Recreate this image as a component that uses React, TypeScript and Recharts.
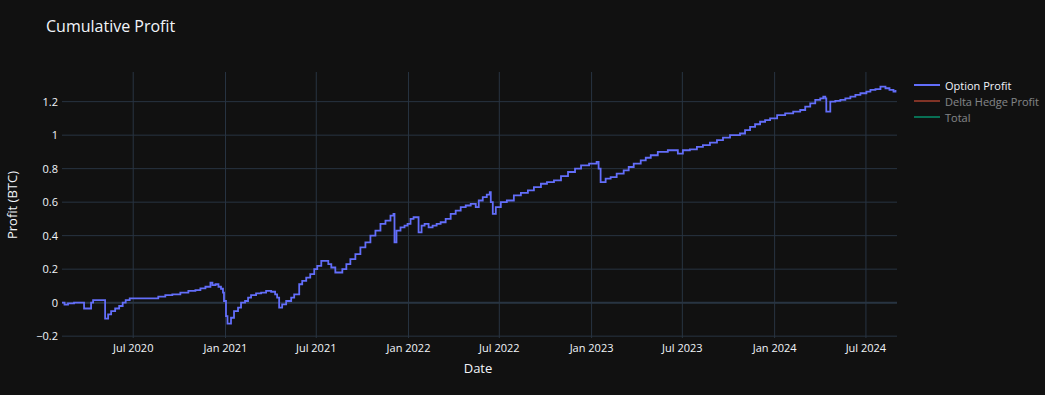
import { LineChart, Line, XAxis, YAxis, CartesianGrid, ReferenceLine } from 'recharts';

const dates = [
  '2020-02-10', '2020-02-15', '2020-02-22', '2020-03-05', '2020-03-25', '2020-04-08', '2020-04-12', '2020-05-05',
  '2020-05-06', '2020-05-12', '2020-05-18', '2020-05-26', '2020-06-03', '2020-06-10', '2020-06-16', '2020-06-24',
  '2020-08-14', '2020-08-20', '2020-09-03', '2020-09-17', '2020-10-03', '2020-10-19', '2020-11-02', '2020-11-12',
  '2020-11-22', '2020-12-02', '2020-12-06', '2020-12-12', '2020-12-18', '2020-12-23', '2020-12-27', '2020-12-29',
  '2021-01-02', '2021-01-05', '2021-01-10', '2021-01-12', '2021-01-18', '2021-01-26', '2021-02-01', '2021-02-09',
  '2021-02-15', '2021-02-21', '2021-03-03', '2021-03-13', '2021-03-23', '2021-04-02', '2021-04-10', '2021-04-14',
  '2021-04-18', '2021-04-24', '2021-05-02', '2021-05-12', '2021-05-18', '2021-05-24', '2021-05-28', '2021-06-03',
  '2021-06-11', '2021-06-19', '2021-06-27', '2021-07-03', '2021-07-11', '2021-07-19', '2021-07-25', '2021-07-31',
  '2021-08-08', '2021-08-14', '2021-08-22', '2021-08-30', '2021-09-07', '2021-09-17', '2021-09-27', '2021-10-07',
  '2021-10-17', '2021-10-27', '2021-11-06', '2021-11-16', '2021-11-26', '2021-12-02', '2021-12-04', '2021-12-08',
  '2021-12-16', '2021-12-24', '2021-12-30', '2022-01-05', '2022-01-11', '2022-01-19', '2022-01-21', '2022-01-27',
  '2022-02-02', '2022-02-10', '2022-02-18', '2022-02-26', '2022-03-06', '2022-03-16', '2022-03-26', '2022-04-05',
  '2022-04-15', '2022-04-25', '2022-05-05', '2022-05-13', '2022-05-15', '2022-05-21', '2022-05-29', '2022-06-06',
  '2022-06-12', '2022-06-14', '2022-06-18', '2022-06-24', '2022-07-04', '2022-07-16', '2022-07-30', '2022-08-13',
  '2022-08-27', '2022-09-08', '2022-09-22', '2022-10-04', '2022-10-18', '2022-11-01', '2022-11-15', '2022-11-29',
  '2022-12-11', '2022-12-27', '2023-01-11', '2023-01-15', '2023-01-19', '2023-01-29', '2023-02-08', '2023-02-20',
  '2023-03-06', '2023-03-16', '2023-03-26', '2023-04-09', '2023-04-19', '2023-04-29', '2023-05-13', '2023-06-02',
  '2023-06-12', '2023-06-22', '2023-07-02', '2023-07-16', '2023-07-30', '2023-08-11', '2023-08-25', '2023-09-08',
  '2023-09-20', '2023-10-04', '2023-10-24', '2023-11-03', '2023-11-13', '2023-11-23', '2023-12-03', '2023-12-13',
  '2023-12-23', '2024-01-06', '2024-01-22', '2024-02-07', '2024-02-21', '2024-03-02', '2024-03-12', '2024-03-22',
  '2024-04-01', '2024-04-07', '2024-04-11', '2024-04-13', '2024-04-21', '2024-05-01', '2024-05-11', '2024-05-21',
  '2024-05-31', '2024-06-10', '2024-06-20', '2024-07-02', '2024-07-10', '2024-07-20', '2024-07-30', '2024-08-09',
  '2024-08-17', '2024-08-25', '2024-08-29',
];

const optionProfit = [
  0.0, -0.012, -0.004, 0.0, -0.035, 0.0, 0.015, 0.015,
  -0.095, -0.07, -0.05, -0.035, -0.02, 0.0, 0.015, 0.026,
  0.026, 0.036, 0.045, 0.05, 0.06, 0.07, 0.075, 0.085,
  0.095, 0.12, 0.105, 0.11, 0.095, 0.083, 0.06, 0.01,
  -0.08, -0.125, -0.125, -0.09, -0.05, -0.03, 0.0, 0.01,
  0.03, 0.045, 0.055, 0.06, 0.07, 0.065, 0.05, 0.03,
  -0.03, -0.01, 0.01, 0.03, 0.05, 0.05, 0.11, 0.13,
  0.15, 0.17, 0.2, 0.22, 0.25, 0.25, 0.23, 0.21,
  0.18, 0.18, 0.2, 0.23, 0.26, 0.29, 0.33, 0.36,
  0.4, 0.43, 0.47, 0.49, 0.52, 0.53, 0.36, 0.43,
  0.45, 0.46, 0.47, 0.5, 0.51, 0.51, 0.42, 0.46,
  0.47, 0.45, 0.46, 0.47, 0.48, 0.5, 0.53, 0.55,
  0.57, 0.58, 0.59, 0.59, 0.57, 0.61, 0.63, 0.645,
  0.66, 0.6, 0.53, 0.57, 0.6, 0.61, 0.64, 0.655,
  0.67, 0.69, 0.71, 0.72, 0.73, 0.755, 0.78, 0.8,
  0.82, 0.83, 0.84, 0.8, 0.72, 0.74, 0.75, 0.77,
  0.79, 0.81, 0.83, 0.85, 0.865, 0.88, 0.9, 0.91,
  0.91, 0.89, 0.91, 0.915, 0.93, 0.94, 0.955, 0.97,
  0.985, 1.0, 1.01, 1.03, 1.05, 1.065, 1.08, 1.09,
  1.1, 1.12, 1.13, 1.14, 1.15, 1.17, 1.19, 1.21,
  1.22, 1.23, 1.22, 1.14, 1.2, 1.205, 1.21, 1.22,
  1.23, 1.24, 1.25, 1.26, 1.27, 1.275, 1.29, 1.28,
  1.27, 1.26, 1.27,
];

const xTicks = ['2020-07-01', '2021-01-01', '2021-07-01', '2022-01-01', '2022-07-01', '2023-01-01', '2023-07-01', '2024-01-01', '2024-07-01'];
const yTicks = [-0.2, 0, 0.2, 0.4, 0.6, 0.8, 1, 1.2];

const series = [
  { name: 'Option Profit', color: '#636efa', visible: true },
  { name: 'Delta Hedge Profit', color: '#ef553b', visible: false },
  { name: 'Total', color: '#00cc96', visible: false },
];

const MONTHS = ['Jan', 'Feb', 'Mar', 'Apr', 'May', 'Jun', 'Jul', 'Aug', 'Sep', 'Oct', 'Nov', 'Dec'];
const ts = (d: string) => Date.parse(d + 'T00:00:00Z');

const FONT = '"Open Sans", verdana, arial, sans-serif';
const TEXT = '#f2f5fa';
const GRID = '#283442';

const data = dates.map((d, i) => ({ t: ts(d), option: optionProfit[i] }));

function fmtDate(v: number) {
  const d = new Date(v);
  return `${MONTHS[d.getUTCMonth()]} ${d.getUTCFullYear()}`;
}

function fmtY(v: number) {
  const s = String(Math.round(v * 10) / 10);
  return s.replace('-', '\u2212');
}

function LegendBox() {
  return (
    <div style={{ position: 'absolute', left: 914, top: 77, fontFamily: FONT, fontSize: 11 }}>
      {series.map((s) => (
        <div key={s.name} style={{ display: 'flex', alignItems: 'center', height: 16, opacity: s.visible ? 1 : 0.5 }}>
          <svg width={30} height={10}>
            <line x1={0} y1={5} x2={26} y2={5} stroke={s.color} strokeWidth={2} />
          </svg>
          <span style={{ color: TEXT, marginLeft: 1 }}>{s.name}</span>
        </div>
      ))}
    </div>
  );
}

export default function App() {
  return (
    <div style={{ position: 'absolute', left: 0, top: 0, width: 1045, height: 395, background: '#111111', fontFamily: FONT }}>
      <div style={{ position: 'absolute', left: 46, top: 15, fontSize: 16, color: TEXT }}>Cumulative Profit</div>
      <div
        style={{
          position: 'absolute', left: 12, top: 205, fontSize: 13, color: TEXT,
          transform: 'translate(-50%, -50%) rotate(-90deg)', whiteSpace: 'nowrap',
        }}
      >
        Profit (BTC)
      </div>
      <div style={{ position: 'absolute', left: 478, top: 368, fontSize: 13, color: TEXT, transform: 'translate(-50%, -50%)' }}>
        Date
      </div>
      <LineChart width={1045} height={395} data={data} margin={{ top: 72, right: 148, bottom: 27, left: 0 }}>
        <CartesianGrid stroke={GRID} strokeWidth={1} syncWithTicks />
        <XAxis
          dataKey="t"
          type="number"
          scale="time"
          domain={[ts('2020-02-10'), ts('2024-09-01')]}
          ticks={xTicks.map(ts)}
          tickFormatter={fmtDate}
          height={30}
          tickSize={0}
          tickMargin={6}
          axisLine={false}
          tick={{ fill: TEXT, fontSize: 11, fontFamily: FONT }}
        />
        <YAxis
          type="number"
          domain={[-0.211, 1.377]}
          ticks={yTicks}
          tickFormatter={fmtY}
          width={62}
          tickSize={0}
          tickMargin={4}
          axisLine={false}
          tick={{ fill: TEXT, fontSize: 11, fontFamily: FONT }}
          allowDataOverflow
        />
        <ReferenceLine y={0} stroke={GRID} strokeWidth={2} />
        <Line
          type="stepAfter"
          dataKey="option"
          name="Option Profit"
          stroke="#636efa"
          strokeWidth={1.8}
          dot={false}
          isAnimationActive={false}
        />
      </LineChart>
      <LegendBox />
    </div>
  );
}
